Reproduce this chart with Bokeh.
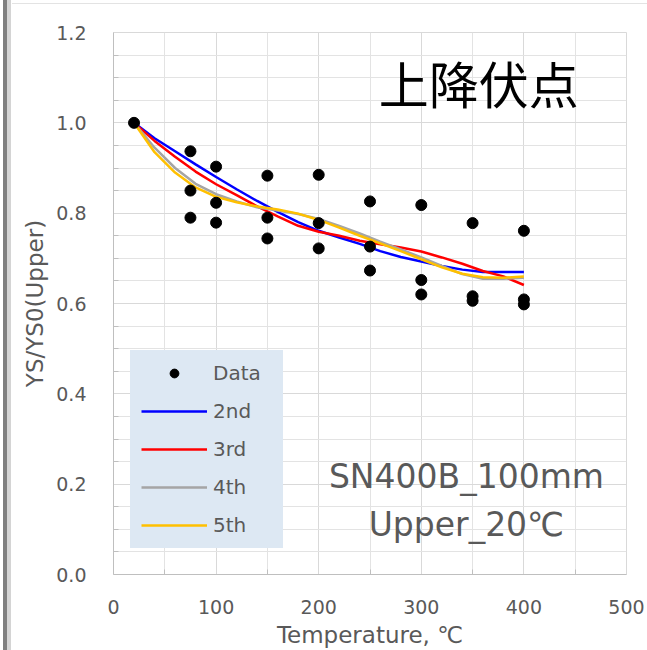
from bokeh.plotting import figure
from bokeh.models import (Range1d, FixedTicker, Legend, LegendItem, Label, Div,
                          ColumnDataSource)
from bokeh.layouts import row, column
from bokeh.embed import file_html
from bokeh.resources import INLINE

# ---- data ----
temp_data = [20, 75, 75, 75, 100, 100, 100, 150, 150, 150, 200, 200, 200,
             250, 250, 250, 300, 300, 300, 350, 350, 350, 400, 400, 400]
ratio_data = [1.0, 0.937, 0.850, 0.790, 0.903, 0.823, 0.779, 0.883, 0.790, 0.744,
              0.885, 0.778, 0.722, 0.826, 0.726, 0.673, 0.818, 0.652, 0.620,
              0.778, 0.616, 0.606, 0.761, 0.609, 0.598]

temp_fit = [20, 40, 60, 80, 100, 120, 140, 160, 180, 200, 220, 240, 260, 280,
            300, 320, 340, 360, 380, 400]
fit_2nd = [1.0, 0.966, 0.937, 0.908, 0.880, 0.853, 0.827, 0.803, 0.780, 0.761,
           0.746, 0.732, 0.716, 0.703, 0.693, 0.683, 0.675, 0.670, 0.670, 0.670]
fit_3rd = [1.0, 0.960, 0.925, 0.892, 0.864, 0.840, 0.815, 0.793, 0.772, 0.759,
           0.750, 0.739, 0.731, 0.724, 0.715, 0.702, 0.688, 0.672, 0.660, 0.641]
fit_4th = [1.0, 0.945, 0.900, 0.865, 0.842, 0.826, 0.813, 0.806, 0.798, 0.787,
           0.772, 0.755, 0.737, 0.720, 0.702, 0.683, 0.665, 0.655, 0.655, 0.657]
fit_5th = [1.0, 0.935, 0.890, 0.857, 0.836, 0.824, 0.815, 0.808, 0.799, 0.785,
           0.768, 0.750, 0.733, 0.716, 0.698, 0.680, 0.666, 0.658, 0.657, 0.660]

series_names = ["2nd", "3rd", "4th", "5th"]
series_colors = ["#0000ff", "#ff0000", "#a5a5a5", "#ffc000"]

x_ticks = [0, 100, 200, 300, 400, 500]
x_minor = [50, 150, 250, 350, 450]
y_ticks = [0.0, 0.2, 0.4, 0.6, 0.8, 1.0, 1.2]
y_minor = [0.05, 0.1, 0.15, 0.25, 0.3, 0.35, 0.45, 0.5, 0.55, 0.65, 0.7, 0.75,
           0.85, 0.9, 0.95, 1.05, 1.1, 1.15]
y_labels = {0.0: "0.0", 0.2: "0.2", 0.4: "0.4", 0.6: "0.6", 0.8: "0.8",
            1.0: "1.0", 1.2: "1.2"}

title_text = "上降伏点"
note_line1 = "SN400B_100mm"
note_line2 = "Upper_20℃"
x_title = "Temperature, ℃"
y_title = "YS/YS0(Upper)"

FONT = "DejaVu Sans"
TXT = "#595959"
LEGEND_BG = "#dde8f3"

p = figure(width=635, height=646, output_backend="svg", toolbar_location=None,
           x_range=Range1d(0, 500), y_range=Range1d(0, 1.2),
           min_border_left=101, min_border_right=21, min_border_top=28,
           min_border_bottom=73)
p.background_fill_color = "white"
p.border_fill_color = "white"
p.outline_line_color = "#d9d9d9"

p.xaxis.ticker = FixedTicker(ticks=x_ticks, minor_ticks=x_minor)
p.yaxis.ticker = FixedTicker(ticks=y_ticks, minor_ticks=y_minor)
p.yaxis.major_label_overrides = y_labels

for ax in (p.xaxis[0], p.yaxis[0]):
    ax.axis_line_color = "#bfbfbf"
    ax.major_tick_line_color = "#bfbfbf"
    ax.minor_tick_line_color = "#bfbfbf"
    ax.major_tick_in = 0
    ax.major_tick_out = 0
    ax.minor_tick_in = 5
    ax.minor_tick_out = 0
    ax.major_label_text_font = FONT
    ax.major_label_text_font_size = "19px"
    ax.major_label_text_color = TXT
    ax.axis_label_text_font = FONT
    ax.axis_label_text_font_size = "23px"
    ax.axis_label_text_font_style = "normal"
    ax.axis_label_text_color = TXT

p.xaxis.axis_label = x_title
p.yaxis.axis_label = y_title
p.xaxis.major_label_standoff = 25
p.yaxis.major_label_standoff = 27
p.xaxis.axis_label_standoff = 5
p.yaxis.axis_label_standoff = 5

for g in (p.xgrid[0], p.ygrid[0]):
    g.grid_line_color = "#d9d9d9"
    g.minor_grid_line_color = "#e3e3e3"

renderers = []
for name, color, vals in zip(series_names, series_colors,
                             [fit_2nd, fit_3rd, fit_4th, fit_5th]):
    src = ColumnDataSource(dict(x=temp_fit, y=vals))
    r = p.line("x", "y", source=src, line_color=color, line_width=2.5)
    renderers.append((name, r))

dsrc = ColumnDataSource(dict(x=temp_data, y=ratio_data))
dots = p.scatter("x", "y", source=dsrc, marker="circle", size=11,
                 fill_color="black", line_color="black")

items = [LegendItem(label="Data", renderers=[dots])]
for name, r in renderers:
    items.append(LegendItem(label=name, renderers=[r]))

legend = Legend(items=items, location=(17, 26))
legend.background_fill_color = LEGEND_BG
legend.background_fill_alpha = 1.0
legend.border_line_color = LEGEND_BG
legend.border_line_alpha = 1.0
legend.border_line_width = 1
legend.padding = 10
legend.margin = 0
legend.spacing = 14
legend.glyph_width = 66
legend.glyph_height = 22
legend.label_height = 22
legend.label_width = 59
legend.label_standoff = 6
legend.label_text_font = FONT
legend.label_text_font_size = "20px"
legend.label_text_color = TXT
p.add_layout(legend, "center")

p.add_layout(Label(x=356, y=1.090, text=title_text, text_align="center",
                   text_baseline="middle", text_font="Noto Sans CJK JP",
                   text_font_size="50px", text_color="black"))
p.add_layout(Label(x=344, y=0.217, text=note_line1, text_align="center",
                   text_baseline="middle", text_font=FONT,
                   text_font_size="33px", text_color=TXT))
p.add_layout(Label(x=344, y=0.111, text=note_line2, text_align="center",
                   text_baseline="middle", text_font=FONT,
                   text_font_size="33px", text_color=TXT))

bar = Div(width=12, height=650, text="", margin=0,
          styles={"background": "linear-gradient(to right, #ffffff 0px, #ffffff 3px, "
                                "#7f7f7f 3px, #7f7f7f 7px, #d4d4d4 7px, #d4d4d4 11px, "
                                "#ffffff 11px)"})
top = Div(width=635, height=4, text="", margin=0,
          styles={"background": "linear-gradient(to bottom, #ffffff 0px, #ffffff 3px, "
                                "#e3e3e3 3px, #e3e3e3 4px)"})

layout = row(bar, column(top, p, spacing=0), spacing=0)

with open("out.html", "w") as f:
    f.write(file_html(layout, INLINE))
